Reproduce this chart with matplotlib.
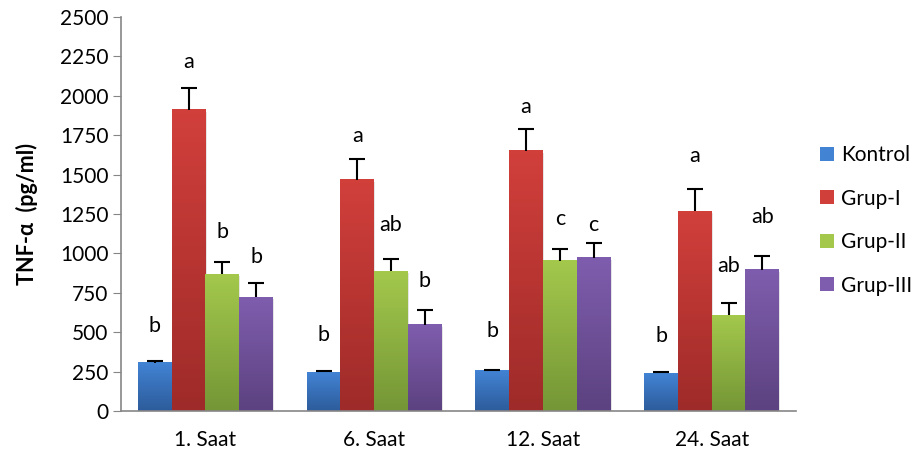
import numpy as np
import matplotlib
matplotlib.use("Agg")
import matplotlib.pyplot as plt
from matplotlib.colors import LinearSegmentedColormap
from matplotlib.patches import Patch, Rectangle

plt.rcParams['font.family'] = ['Lato', 'DejaVu Sans']

# TNF-alpha levels per time point (pg/ml)
hours = ['1. Saat', '6. Saat', '12. Saat', '24. Saat']
groups = ['Kontrol', 'Grup-I', 'Grup-II', 'Grup-III']

kontrol = [305, 247, 255, 240]
grup1 = [1910, 1466, 1650, 1269]
grup2 = [869, 888, 952, 609]
grup3 = [723, 546, 971, 895]

kontrol_err = [12, 10, 8, 10]
grup1_err = [137, 136, 137, 138]
grup2_err = [78, 74, 76, 78]
grup3_err = [91, 95, 97, 90]

# significance letters and the height they sit at
kontrol_sig = ['b', 'b', 'b', 'b']
grup1_sig = ['a', 'a', 'a', 'a']
grup2_sig = ['b', 'ab', 'c', 'ab']
grup3_sig = ['b', 'b', 'c', 'ab']
kontrol_sig_y = [541, 482, 509, 476]
grup1_sig_y = [2214, 1745, 1927, 1620]
grup2_sig_y = [1138, 1180, 1216, 922]
grup3_sig_y = [979, 827, 1180, 1233]

values = [kontrol, grup1, grup2, grup3]
errors = [kontrol_err, grup1_err, grup2_err, grup3_err]
sigs = [kontrol_sig, grup1_sig, grup2_sig, grup3_sig]
sig_y = [kontrol_sig_y, grup1_sig_y, grup2_sig_y, grup3_sig_y]

# (top, bottom) gradient colours for each series
shades = [('#4283D4', '#2D5C9B'),
          ('#D13F3B', '#9E2B29'),
          ('#A3C84C', '#759636'),
          ('#7F5DAE', '#5C4280')]

fig = plt.figure(figsize=(9.16, 4.65), dpi=100)
ax = fig.add_axes([0.1321, 0.1161, 0.7369, 0.8473])

width = 0.2
x = np.arange(len(hours))
for j, (vals, errs) in enumerate(zip(values, errors)):
    pos = x + (j - 1.5) * width
    cmap = LinearSegmentedColormap.from_list('g%d' % j, [shades[j][1], shades[j][0]])
    for xi, v in zip(pos, vals):
        # soft drop shadow
        ax.add_patch(Rectangle((xi - width / 2 + 0.008, -12), width, v,
                               facecolor='#000000', alpha=0.10, lw=0, zorder=1))
        grad = np.linspace(0, 1, 64).reshape(-1, 1)
        ax.imshow(grad, cmap=cmap, origin='lower', aspect='auto',
                  extent=(xi - width / 2, xi + width / 2, 0, v), zorder=2)
    # plus-only error bars: stem from bar top, cap at the end
    tops = np.array(vals) + np.array(errs)
    ax.vlines(pos, vals, tops, color='black', lw=1.5, zorder=3)
    ax.plot(pos, tops, ls='none', marker='_', markersize=11,
            markeredgewidth=1.5, color='black', zorder=3)
    for xi, s, sy in zip(pos, sigs[j], sig_y[j]):
        ax.text(xi, sy, s, ha='center', va='center', fontsize=15.5, color='black')

ax.set_xlim(-0.5, 3.5)
ax.set_ylim(0, 2500)
ax.set_xticks(x)
ax.set_xticklabels(hours, fontsize=15)
ax.set_yticks(np.arange(0, 2501, 250))
ax.tick_params(axis='y', labelsize=15, length=6, color='#868686', pad=3)
ax.tick_params(axis='x', length=0, pad=14)
for side in ['top', 'right']:
    ax.spines[side].set_visible(False)
for side in ['left', 'bottom']:
    ax.spines[side].set_color('#868686')
    ax.spines[side].set_linewidth(1.2)

ax.set_ylabel('TNF-α  (pg/ml)', fontsize=15.5, fontweight='bold')
ax.yaxis.set_label_coords(-0.123, 0.5)

handles = [Patch(facecolor=c[0], edgecolor='none') for c in shades]
fig.legend(handles, groups, loc='center left', bbox_to_anchor=(0.884, 0.526),
           frameon=False, fontsize=15, handlelength=0.65, handleheight=0.65,
           handletextpad=0.35, labelspacing=1.13, borderpad=0)

fig.savefig('out.png', dpi=100)
